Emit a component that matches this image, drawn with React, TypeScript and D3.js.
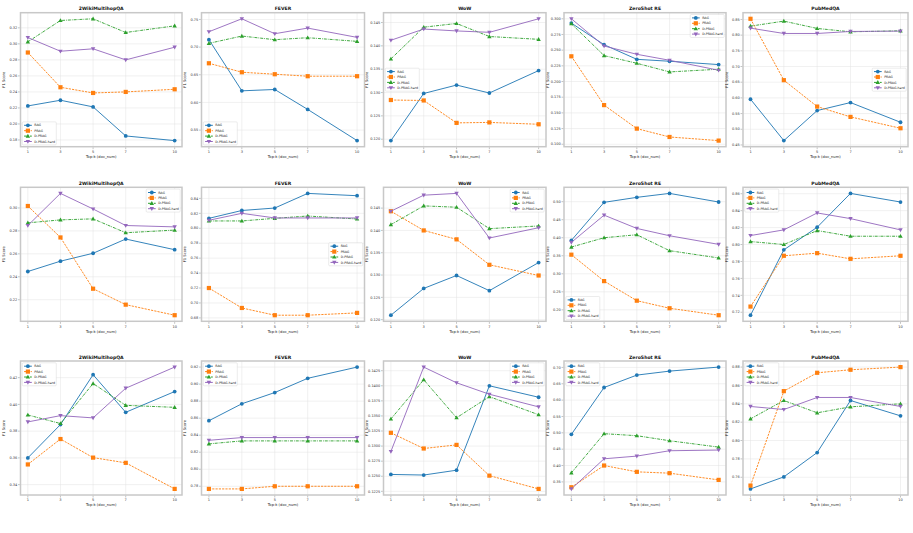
import React from 'react';
import * as d3 from 'd3';

const kValues = [1, 3, 5, 7, 10];
const seriesNames = ['RAG', 'PRAG', 'D-PRAG', 'D-PRAG-hard'];
const datasetTitles = ['2WikiMultihopQA', 'FEVER', 'WoW', 'ZeroShot RE', 'PubMedQA'];

// Each panel: [RAG, PRAG, D-PRAG, D-PRAG-hard] over kValues
const row1Wiki = [
  [0.2225, 0.2296, 0.2213, 0.185, 0.1792],
  [0.2892, 0.2458, 0.2387, 0.24, 0.2433],
  [0.3025, 0.3292, 0.3313, 0.3142, 0.3225],
  [0.3079, 0.2908, 0.2938, 0.28, 0.2958],
];
const row1Fever = [
  [0.7134, 0.621, 0.6234, 0.5874, 0.531],
  [0.6708, 0.6546, 0.651, 0.6474, 0.6474],
  [0.7068, 0.72, 0.7134, 0.717, 0.7104],
  [0.7278, 0.7512, 0.7242, 0.7344, 0.7176],
];
const row1Wow = [
  [0.1197, 0.1298, 0.1316, 0.1299, 0.1347],
  [0.1284, 0.1283, 0.1235, 0.1236, 0.1232],
  [0.1372, 0.144, 0.1448, 0.142, 0.1414],
  [0.1412, 0.1436, 0.1432, 0.1429, 0.1458],
];
const row1Zsre = [
  [0.2931, 0.2587, 0.2354, 0.2323, 0.227],
  [0.2402, 0.1624, 0.1249, 0.1116, 0.1058],
  [0.2921, 0.2413, 0.2291, 0.2153, 0.2196],
  [0.3, 0.2566, 0.2434, 0.2339, 0.218],
];
const row1Pubmed = [
  [0.5957, 0.4638, 0.5596, 0.5851, 0.5223],
  [0.8521, 0.6564, 0.5723, 0.5394, 0.5032],
  [0.8287, 0.8447, 0.8213, 0.8106, 0.8138],
  [0.8223, 0.8053, 0.8053, 0.8117, 0.8128],
];

const row2Wiki = [
  [0.2446, 0.2536, 0.2605, 0.2729, 0.2636],
  [0.3017, 0.2743, 0.2296, 0.2157, 0.2065],
  [0.287, 0.2896, 0.2905, 0.2784, 0.2807],
  [0.2847, 0.3127, 0.2991, 0.2847, 0.2835],
];
const row2Fever = [
  [0.8133, 0.8238, 0.8271, 0.8467, 0.8436],
  [0.72, 0.6933, 0.6836, 0.6836, 0.6867],
  [0.8098, 0.8098, 0.8133, 0.8164, 0.8124],
  [0.8107, 0.82, 0.8138, 0.8138, 0.8138],
];
const row2Wow = [
  [0.121, 0.127, 0.1299, 0.1265, 0.1328],
  [0.1443, 0.14, 0.138, 0.1323, 0.1299],
  [0.1413, 0.1455, 0.1452, 0.1404, 0.141],
  [0.1443, 0.1479, 0.1483, 0.1383, 0.1406],
];
const row2Zsre = [
  [0.3926, 0.4982, 0.512, 0.523, 0.4991],
  [0.353, 0.2797, 0.2254, 0.2044, 0.1851],
  [0.3742, 0.4, 0.4083, 0.3641, 0.3439],
  [0.3871, 0.4626, 0.4258, 0.4055, 0.3816],
];
const row2Pubmed = [
  [0.7165, 0.7937, 0.8204, 0.8604, 0.8502],
  [0.7267, 0.7867, 0.7898, 0.7831, 0.7867],
  [0.8035, 0.8, 0.8165, 0.8098, 0.8098],
  [0.8106, 0.8173, 0.8373, 0.8306, 0.8173],
];

const row3Wiki = [
  [0.36, 0.3849, 0.4222, 0.3941, 0.4096],
  [0.3551, 0.3741, 0.3602, 0.3563, 0.3368],
  [0.3921, 0.3857, 0.4156, 0.3993, 0.3978],
  [0.3869, 0.3916, 0.3899, 0.4121, 0.4279],
];
const row3Fever = [
  [0.857, 0.8769, 0.8901, 0.9068, 0.92],
  [0.7769, 0.7769, 0.78, 0.78, 0.78],
  [0.8298, 0.8333, 0.8333, 0.8333, 0.8333],
  [0.834, 0.8372, 0.8372, 0.8372, 0.8372],
];
const row3Wow = [
  [0.1253, 0.1252, 0.126, 0.14, 0.1381],
  [0.1322, 0.1296, 0.1302, 0.1251, 0.1229],
  [0.1345, 0.141, 0.1347, 0.1382, 0.1352],
  [0.1291, 0.1431, 0.1405, 0.1386, 0.1365],
];
const row3Zsre = [
  [0.4953, 0.6386, 0.6765, 0.6887, 0.701],
  [0.3336, 0.4, 0.3807, 0.3766, 0.3561],
  [0.3776, 0.4973, 0.4912, 0.4758, 0.4563],
  [0.3285, 0.4206, 0.4288, 0.4452, 0.4473],
];
const row3Pubmed = [
  [0.7473, 0.7604, 0.7869, 0.8436, 0.8269],
  [0.7509, 0.8538, 0.8738, 0.8771, 0.88],
  [0.8236, 0.8436, 0.8302, 0.8367, 0.84],
  [0.8371, 0.8338, 0.8469, 0.8469, 0.8371],
];

// y tick labels per panel
const row1Ticks = [
  ['0.18', '0.20', '0.22', '0.24', '0.26', '0.28', '0.30', '0.32'],
  ['0.55', '0.60', '0.65', '0.70', '0.75'],
  ['0.120', '0.125', '0.130', '0.135', '0.140', '0.145'],
  ['0.100', '0.125', '0.150', '0.175', '0.200', '0.225', '0.250', '0.275', '0.300'],
  ['0.45', '0.50', '0.55', '0.60', '0.65', '0.70', '0.75', '0.80', '0.85'],
];
const row2Ticks = [
  ['0.22', '0.24', '0.26', '0.28', '0.30'],
  ['0.68', '0.70', '0.72', '0.74', '0.76', '0.78', '0.80', '0.82', '0.84'],
  ['0.120', '0.125', '0.130', '0.135', '0.140', '0.145'],
  ['0.20', '0.25', '0.30', '0.35', '0.40', '0.45', '0.50'],
  ['0.72', '0.74', '0.76', '0.78', '0.80', '0.82', '0.84', '0.86'],
];
const row3Ticks = [
  ['0.34', '0.36', '0.38', '0.40', '0.42'],
  ['0.78', '0.80', '0.82', '0.84', '0.86', '0.88', '0.90', '0.92'],
  ['0.1225', '0.1250', '0.1275', '0.1300', '0.1325', '0.1350', '0.1375', '0.1400', '0.1425'],
  ['0.35', '0.40', '0.45', '0.50', '0.55', '0.60', '0.65', '0.70'],
  ['0.76', '0.78', '0.80', '0.82', '0.84', '0.86', '0.88'],
];

const row1Legend = ['lower left', 'lower left', 'center left', 'upper right', 'center right'];
const row2Legend = ['upper right', 'center right', 'upper right', 'lower left', 'upper left'];
const row3Legend = ['upper left', 'upper left', 'upper right', 'upper left', 'upper left'];

const colors = ['#1f77b4', '#ff7f0e', '#2ca02c', '#9467bd'];
const dashes = ['none', '2.2,1.1', '3,1,0.8,1', 'none'];
const FONT = 'DejaVu Sans, sans-serif';

const colX = [
  [20.5, 182],
  [201.5, 364.5],
  [383.5, 546],
  [564, 726],
  [743, 908],
];
const rowY = [
  [12.7, 146.7],
  [187.3, 321.3],
  [361, 495],
];

function Marker({ kind, x, y, color }: { kind: number; x: number; y: number; color: string }) {
  const s = 2.1;
  if (kind === 0) return <circle cx={x} cy={y} r={1.9} fill={color} />;
  if (kind === 1) return <rect x={x - s} y={y - s} width={2 * s} height={2 * s} fill={color} />;
  if (kind === 2)
    return <path d={`M${x},${y - 2.3}L${x + 2.2},${y + 1.6}L${x - 2.2},${y + 1.6}Z`} fill={color} />;
  return <path d={`M${x},${y + 2.3}L${x + 2.2},${y - 1.6}L${x - 2.2},${y - 1.6}Z`} fill={color} />;
}

function Panel({
  x0, x1, y0, y1, title, data, ticks, legend,
}: {
  x0: number; x1: number; y0: number; y1: number; title: string;
  data: number[][]; ticks: string[]; legend: string;
}) {
  const xs = d3.scaleLinear().domain([1 - 0.45, 10 + 0.45]).range([x0, x1]);
  const all = data.flat();
  const mn = d3.min(all) as number;
  const mx = d3.max(all) as number;
  const pad = (mx - mn) * 0.05;
  const ys = d3.scaleLinear().domain([mn - pad, mx + pad]).range([y1, y0]);
  const line = d3.line<number>().x((_, i) => xs(kValues[i])).y((d) => ys(d));

  const lw = 34, lh = 23;
  let lx = x0 + 1.8, ly = y1 - lh - 1.8;
  if (legend === 'upper right' || legend === 'center right') lx = x1 - lw - 1.8;
  if (legend.startsWith('upper')) ly = y0 + 1.8;
  if (legend.startsWith('center')) ly = (y0 + y1) / 2 - lh / 2;

  return (
    <g>
      <rect x={x0} y={y0} width={x1 - x0} height={y1 - y0} fill="#fff" />
      {kValues.map((k) => (
        <line key={'gx' + k} x1={xs(k)} x2={xs(k)} y1={y0} y2={y1} stroke="#e3e3e3" strokeWidth={0.5} />
      ))}
      {ticks.map((t) => (
        <line key={'gy' + t} x1={x0} x2={x1} y1={ys(+t)} y2={ys(+t)} stroke="#e3e3e3" strokeWidth={0.5} />
      ))}
      {data.map((s, i) => (
        <path key={'l' + i} d={line(s) || ''} fill="none" stroke={colors[i]} strokeWidth={1}
          strokeDasharray={dashes[i]} opacity={0.9} />
      ))}
      {data.map((s, i) =>
        s.map((v, j) => <Marker key={'m' + i + '-' + j} kind={i} x={xs(kValues[j])} y={ys(v)} color={colors[i]} />)
      )}
      <rect x={x0} y={y0} width={x1 - x0} height={y1 - y0} fill="none" stroke="#c8c8c8" strokeWidth={1.5} />
      {kValues.map((k) => (
        <g key={'tx' + k}>
          <line x1={xs(k)} x2={xs(k)} y1={y1 + 0.75} y2={y1 + 2.5} stroke="#888" strokeWidth={0.5} />
          <text x={xs(k)} y={y1 + 6.3} fontSize={3.5} textAnchor="middle" fill="#333" fontFamily={FONT}>{k}</text>
        </g>
      ))}
      {ticks.map((t) => (
        <g key={'ty' + t}>
          <line x1={x0 - 0.75} x2={x0 - 2.5} y1={ys(+t)} y2={ys(+t)} stroke="#888" strokeWidth={0.5} />
          <text x={x0 - 3.2} y={ys(+t) + 1.2} fontSize={3.5} textAnchor="end" fill="#333" fontFamily={FONT}>{t}</text>
        </g>
      ))}
      <text x={(x0 + x1) / 2} y={y0 - 2.3} fontSize={4.6} fontWeight="bold" textAnchor="middle" fill="#111" fontFamily={FONT}>{title}</text>
      <text x={(x0 + x1) / 2} y={y1 + 11.3} fontSize={3.7} textAnchor="middle" fill="#222" fontFamily={FONT}>Top-k (doc_num)</text>
      <text transform={`translate(${x0 - 15.5},${(y0 + y1) / 2}) rotate(-90)`} fontSize={3.7} textAnchor="middle" fill="#222" fontFamily={FONT}>F1 Score</text>
      <g>
        <rect x={lx} y={ly} width={lw} height={lh} rx={1} fill="#fff" fillOpacity={0.85} stroke="#d0d0d0" strokeWidth={0.4} />
        {seriesNames.map((n, i) => {
          const yy = ly + 3.4 + i * 5.4;
          return (
            <g key={'lg' + n}>
              <line x1={lx + 1.8} x2={lx + 9.5} y1={yy} y2={yy} stroke={colors[i]} strokeWidth={1} strokeDasharray={dashes[i]} />
              <Marker kind={i} x={lx + 5.6} y={yy} color={colors[i]} />
              <text x={lx + 12} y={yy + 1.1} fontSize={3.2} fill="#222" fontFamily={FONT}>{n}</text>
            </g>
          );
        })}
      </g>
    </g>
  );
}

const rowsData = [
  [row1Wiki, row1Fever, row1Wow, row1Zsre, row1Pubmed],
  [row2Wiki, row2Fever, row2Wow, row2Zsre, row2Pubmed],
  [row3Wiki, row3Fever, row3Wow, row3Zsre, row3Pubmed],
];
const rowsTicks = [row1Ticks, row2Ticks, row3Ticks];
const rowsLegend = [row1Legend, row2Legend, row3Legend];

export default function App() {
  return (
    <svg width={913} height={533} style={{ position: 'absolute', left: 0, top: 0, background: '#fff' }}>
      <rect width={913} height={533} fill="#fff" />
      {rowsData.map((row, r) =>
        row.map((data, c) => (
          <Panel key={r + '-' + c} x0={colX[c][0]} x1={colX[c][1]} y0={rowY[r][0]} y1={rowY[r][1]}
            title={datasetTitles[c]} data={data} ticks={rowsTicks[r][c]} legend={rowsLegend[r][c]} />
        ))
      )}
    </svg>
  );
}
